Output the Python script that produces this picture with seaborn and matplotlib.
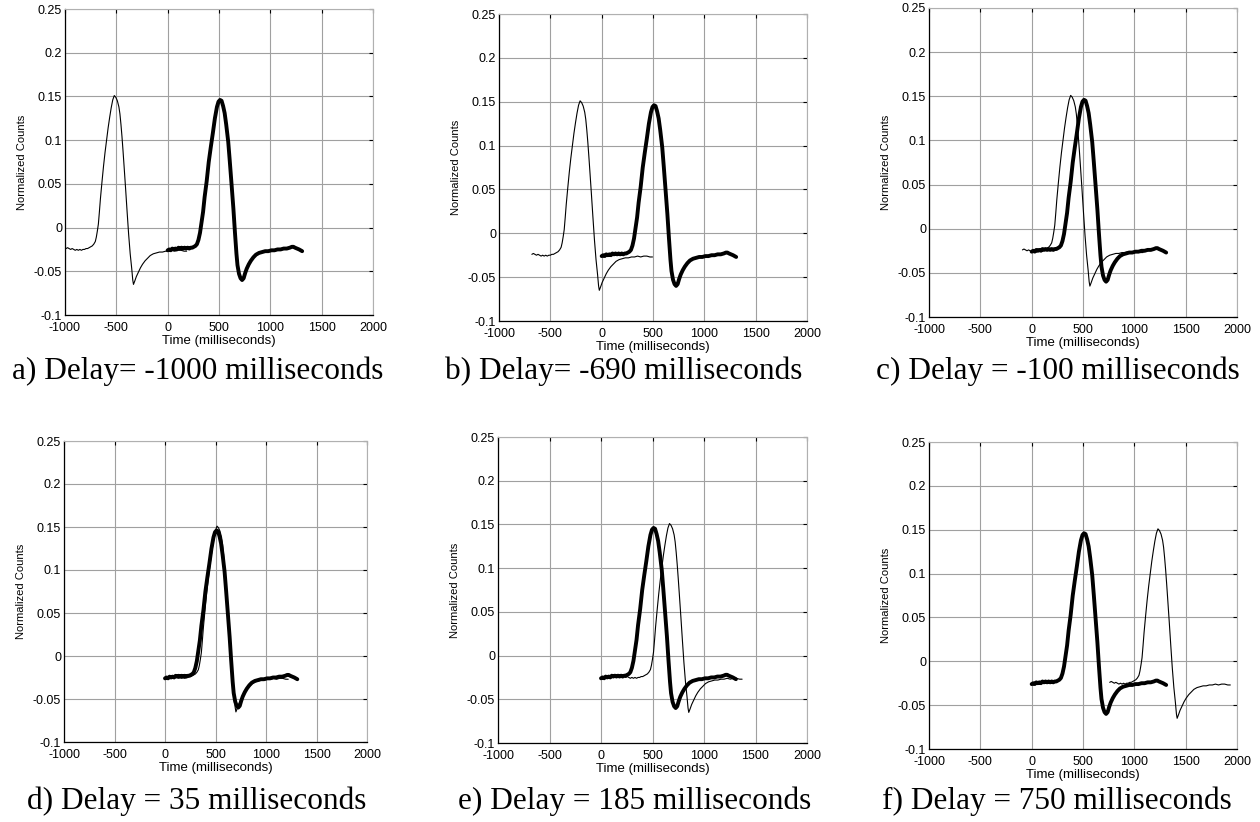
import numpy as np
import pandas as pd
import matplotlib
matplotlib.use("Agg")
import matplotlib.pyplot as plt
import seaborn as sns

# ---------------- data ----------------
# reference (thick) curve: absolute time (ms) and normalized counts
ref_time = [0, 15, 30, 45, 60, 75, 90, 105, 120, 135, 150, 165, 180, 195, 210, 225, 240, 255,
            270, 285, 300, 315, 330, 345, 360, 380, 400, 420, 440, 460, 480, 495, 510, 525,
            540, 555, 570, 590, 605, 620, 640, 655, 670, 680, 695, 710, 725, 740, 755, 770,
            790, 810, 835, 860, 890, 920, 950, 980, 1010, 1040, 1070, 1100, 1130, 1160, 1190,
            1210, 1225, 1240, 1260, 1280, 1295, 1310]
ref_counts = [-0.026, -0.025, -0.026, -0.024, -0.025, -0.024, -0.025, -0.023, -0.024, -0.023,
              -0.024, -0.023, -0.024, -0.023, -0.024, -0.023, -0.023, -0.022, -0.021, -0.019,
              -0.014, -0.006, 0.006, 0.018, 0.035, 0.053, 0.075, 0.092, 0.108, 0.125, 0.138,
              0.144, 0.146, 0.145, 0.139, 0.131, 0.118, 0.098, 0.076, 0.053, 0.022, -0.005,
              -0.030, -0.043, -0.053, -0.058, -0.060, -0.058, -0.052, -0.047, -0.042, -0.038,
              -0.034, -0.031, -0.029, -0.028, -0.027, -0.027, -0.026, -0.026, -0.025, -0.025,
              -0.024, -0.024, -0.023, -0.022, -0.022, -0.023, -0.024, -0.025, -0.026, -0.027]

# delayed (thin) curve: time relative to the delay (ms) and normalized counts
sig_time = [10, 25, 40, 55, 70, 85, 100, 115, 130, 145, 160, 175, 190, 205, 220, 235, 250, 265,
            280, 295, 305, 315, 325, 335, 345, 360, 375, 390, 405, 420, 435, 450, 465, 480,
            495, 510, 525, 535, 545, 555, 565, 575, 590, 605, 620, 635, 650, 660, 667, 680,
            695, 715, 735, 755, 780, 805, 830, 860, 890, 920, 950, 980, 1010, 1040, 1070,
            1100, 1130, 1160, 1185]
sig_counts = [-0.024, -0.023, -0.024, -0.025, -0.024, -0.025, -0.026, -0.025, -0.026, -0.025,
              -0.026, -0.025, -0.025, -0.024, -0.024, -0.023, -0.022, -0.021, -0.019, -0.016,
              -0.011, -0.004, 0.004, 0.018, 0.033, 0.052, 0.070, 0.086, 0.100, 0.114, 0.126,
              0.137, 0.146, 0.151, 0.149, 0.145, 0.138, 0.130, 0.118, 0.104, 0.088, 0.071,
              0.045, 0.018, -0.008, -0.030, -0.047, -0.060, -0.065, -0.061, -0.056, -0.051,
              -0.046, -0.042, -0.038, -0.035, -0.032, -0.030, -0.029, -0.028, -0.028, -0.027,
              -0.027, -0.026, -0.027, -0.026, -0.026, -0.027, -0.027]

delays = [-1000, -690, -100, 35, 185, 750]
captions = ["a) Delay= -1000 milliseconds", "b) Delay= -690 milliseconds",
            "c) Delay = -100 milliseconds", "d) Delay = 35 milliseconds",
            "e) Delay = 185 milliseconds", "f) Delay = 750 milliseconds"]

x_ticks = [-1000, -500, 0, 500, 1000, 1500, 2000]
x_ticklabels = ["-1000", "-500", "0", "500", "1000", "1500", "2000"]
y_ticks = [-0.1, -0.05, 0, 0.05, 0.1, 0.15, 0.2, 0.25]
y_ticklabels = ["-0.1", "-0.05", "0", "0.05", "0.1", "0.15", "0.2", "0.25"]

# ---------------- layout (pixel boxes) ----------------
W, H = 1260, 822
boxes = [(65, 9, 373, 315), (499, 14, 807, 321), (929, 8, 1237, 317),
         (64, 441, 367, 742), (498, 437, 807, 743), (929, 442, 1237, 749)]
caption_pos = [(198, 371), (624, 371), (1058, 371), (197, 801), (635, 801), (1057, 801)]

sns.set_style("white")
plt.rcParams["font.family"] = ["Liberation Sans", "DejaVu Sans"]
plt.rcParams.update({"text.color": "black", "axes.labelcolor": "black",
                     "xtick.color": "black", "ytick.color": "black"})

fig = plt.figure(figsize=(W / 100, H / 100), dpi=100)

ref_df = pd.DataFrame({"time": ref_time, "counts": ref_counts})

for i, (delay, cap) in enumerate(zip(delays, captions)):
    x0, y0, x1, y1 = boxes[i]
    ax = fig.add_axes([x0 / W, 1 - y1 / H, (x1 - x0) / W, (y1 - y0) / H])
    sig_df = pd.DataFrame({"time": np.array(sig_time) + delay, "counts": sig_counts})
    sns.lineplot(data=sig_df, x="time", y="counts", ax=ax, color="black",
                 linewidth=0.8, estimator=None, sort=False)
    sns.lineplot(data=ref_df, x="time", y="counts", ax=ax, color="black",
                 linewidth=2.8, estimator=None, sort=False)
    ax.set_xlim(-1000, 2000)
    ax.set_ylim(-0.1, 0.25)
    ax.set_xticks(x_ticks)
    ax.set_xticklabels(x_ticklabels)
    ax.set_yticks(y_ticks)
    ax.set_yticklabels(y_ticklabels)
    ax.grid(True, color="#a0a0a0", linewidth=0.8, linestyle="-")
    ax.set_axisbelow(True)
    ax.tick_params(direction="in", length=3, width=0.8, colors="black",
                   labelsize=9, top=True, right=True)
    ax.tick_params(axis="x", pad=5)
    ax.tick_params(axis="y", pad=2)
    for s in ["left", "bottom"]:
        ax.spines[s].set_color("black")
        ax.spines[s].set_linewidth(0.9)
    for s in ["top", "right"]:
        ax.spines[s].set_color("#b0b0b0")
        ax.spines[s].set_linewidth(0.8)
    ax.set_xlabel("Time (milliseconds)", fontsize=9.5, labelpad=1)
    ax.set_ylabel("Normalized Counts", fontsize=8, labelpad=5)
    cx, cy = caption_pos[i]
    fig.text(cx / W, 1 - cy / H, cap, ha="center", va="center", color="black",
             fontsize=22.5, family=["Liberation Serif", "DejaVu Serif"])

fig.savefig("out.png", dpi=100)
